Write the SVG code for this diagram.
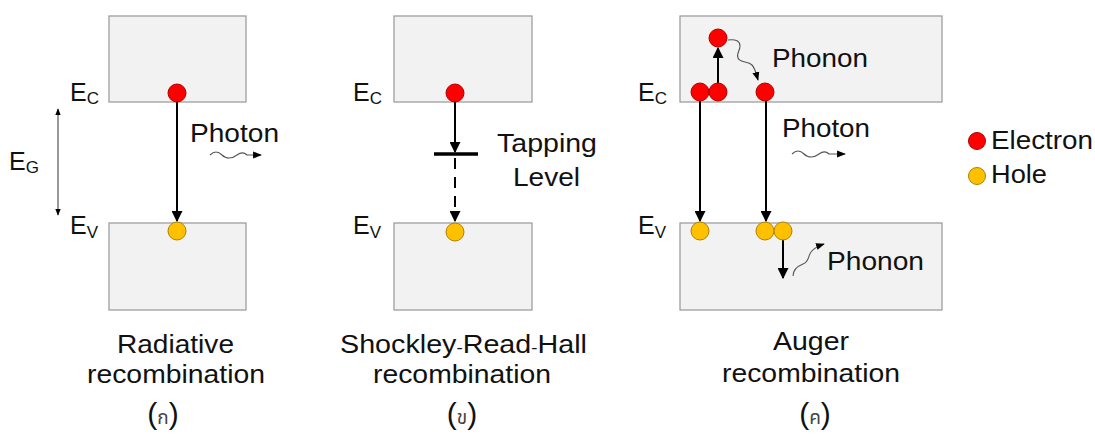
<svg xmlns="http://www.w3.org/2000/svg" width="1095" height="434" viewBox="0 0 1095 434">
<style>
.band{fill:#f2f2f2;stroke:#9e9e9e;stroke-width:1.3}
.el{fill:#ff0000;stroke:#b00000;stroke-width:1}
.ho{fill:#ffc000;stroke:#b08000;stroke-width:1}
.t{font-family:"Liberation Sans","Noto Sans",sans-serif;fill:#111;font-size:26px}
.e{font-size:25px}
.sub{font-size:17px}
.par{font-size:30px}
.th{font-family:"Noto Sans Thai","Noto Sans","DejaVu Sans",sans-serif;font-size:19px;fill:#444}
.ar{stroke:#000;stroke-width:2;fill:none}
.wv{stroke:#555;stroke-width:1.1;fill:none}
</style>
<defs>
<marker id="ah" viewBox="0 0 10 10" refX="9" refY="5" markerWidth="5.5" markerHeight="5.5" orient="auto-start-reverse" markerUnits="strokeWidth"><path d="M0,0L10,5L0,10z" fill="#000"/></marker>
<marker id="ahs" viewBox="0 0 10 10" refX="9" refY="5" markerWidth="7" markerHeight="7" orient="auto-start-reverse" markerUnits="strokeWidth"><path d="M0,1L10,5L0,9z" fill="#000"/></marker>
<marker id="ahw" viewBox="0 0 10 10" refX="9" refY="5" markerWidth="8" markerHeight="8" orient="auto" markerUnits="strokeWidth"><path d="M0,1L10,5L0,9z" fill="#000"/></marker>
</defs>
<g id="panel-a">
<rect class="band" x="109" y="16" width="137" height="86"/>
<rect class="band" x="109" y="223" width="137" height="87"/>
<text class="t e" x="70" y="101">E<tspan class="sub" dy="3">C</tspan></text>
<text class="t e" x="70" y="234">E<tspan class="sub" dy="4">V</tspan></text>
<text class="t e" x="9" y="170">E<tspan class="sub" dy="3">G</tspan></text>
<text class="t" x="190" y="142" textLength="89" lengthAdjust="spacingAndGlyphs">Photon</text>
<text class="t" x="117" y="353" textLength="117" lengthAdjust="spacingAndGlyphs">Radiative</text>
<text class="t" x="87" y="383" textLength="178" lengthAdjust="spacingAndGlyphs">recombination</text>
<text class="t par" x="163" y="424" text-anchor="middle">(<tspan class="th">ก</tspan>)</text>
</g>
<g id="panel-b">
<rect class="band" x="394" y="16" width="138" height="86"/>
<rect class="band" x="394" y="223" width="138" height="87"/>
<line x1="434" y1="154" x2="478" y2="154" stroke="#000" stroke-width="3.5"/>
<text class="t e" x="353" y="101">E<tspan class="sub" dy="3">C</tspan></text>
<text class="t e" x="353" y="234">E<tspan class="sub" dy="4">V</tspan></text>
<text class="t" x="497" y="152" textLength="100" lengthAdjust="spacingAndGlyphs">Tapping</text>
<text class="t" x="513" y="186" textLength="67" lengthAdjust="spacingAndGlyphs">Level</text>
<text class="t" x="340" y="353" textLength="247" lengthAdjust="spacingAndGlyphs">Shockley<tspan font-size="17">-</tspan>Read<tspan font-size="17">-</tspan>Hall</text>
<text class="t" x="373" y="383" textLength="178" lengthAdjust="spacingAndGlyphs">recombination</text>
<text class="t par" x="462" y="424" text-anchor="middle">(<tspan class="th">ข</tspan>)</text>
</g>
<g id="panel-c">
<rect class="band" x="680" y="16" width="262" height="86"/>
<rect class="band" x="680" y="223" width="262" height="87"/>
<text class="t e" x="638" y="101">E<tspan class="sub" dy="3">C</tspan></text>
<text class="t e" x="638" y="234">E<tspan class="sub" dy="4">V</tspan></text>
<text class="t" x="772" y="67" textLength="96" lengthAdjust="spacingAndGlyphs">Phonon</text>
<text class="t" x="782" y="137" textLength="88" lengthAdjust="spacingAndGlyphs">Photon</text>
<text class="t" x="827" y="270" textLength="97" lengthAdjust="spacingAndGlyphs">Phonon</text>
<text class="t" x="773" y="350" textLength="76" lengthAdjust="spacingAndGlyphs">Auger</text>
<text class="t" x="722" y="382" textLength="178" lengthAdjust="spacingAndGlyphs">recombination</text>
<text class="t par" x="815" y="424" text-anchor="middle">(<tspan class="th">ค</tspan>)</text>
</g>
<g id="legend">
<circle class="el" cx="977" cy="141" r="8.5"/>
<text class="t" x="991" y="149" textLength="102" lengthAdjust="spacingAndGlyphs">Electron</text>
<circle class="ho" cx="977" cy="176" r="8.5"/>
<text class="t" x="991" y="183" textLength="56" lengthAdjust="spacingAndGlyphs">Hole</text>
</g>
<g id="connectors">
<line class="ar" x1="177" y1="101" x2="177" y2="221" marker-end="url(#ah)"/>
<line x1="58" y1="109" x2="58" y2="215" stroke="#333" stroke-width="1" marker-start="url(#ahs)" marker-end="url(#ahs)"/>
<path class="wv" d="M210,155 c4,-4 8,-4 12,0 c4,4 10,4 15,0 c4,-3 7,-3 10,0 l14,0" marker-end="url(#ahw)"/>
<line class="ar" x1="455" y1="101" x2="455" y2="152" marker-end="url(#ah)"/>
<line class="ar" x1="455" y1="158" x2="455" y2="221" stroke-dasharray="11,8" marker-end="url(#ah)"/>
<line class="ar" x1="718" y1="84" x2="718" y2="48" marker-end="url(#ah)"/>
<path class="wv" d="M728,40 c8,-1 12,1 12,6 c0,5 -4,8 -2,12 c2,5 10,3 14,7 c3,3 4,8 6,15" marker-end="url(#ahw)"/>
<line class="ar" x1="700" y1="101" x2="700" y2="221" marker-end="url(#ah)"/>
<line class="ar" x1="766" y1="101" x2="766" y2="221" marker-end="url(#ah)"/>
<line class="ar" x1="783" y1="240" x2="783" y2="278" marker-end="url(#ah)"/>
<path class="wv" d="M793,276 c0,-7 5,-10 10,-12 c6,-2 5,-8 8,-12 c3,-4 7,-6 13,-8" marker-end="url(#ahw)"/>
<path class="wv" d="M792,154 c4,-4 8,-4 12,0 c4,4 10,4 15,0 c4,-3 7,-3 10,0 l16,0" marker-end="url(#ahw)"/>
</g>
<g id="particles">
<circle class="el" cx="177" cy="93" r="9"/>
<circle class="ho" cx="177" cy="231" r="9"/>
<circle class="el" cx="455" cy="93" r="9"/>
<circle class="ho" cx="455" cy="232" r="9"/>
<circle class="el" cx="700" cy="92" r="9"/>
<circle class="el" cx="718" cy="92" r="9"/>
<circle class="el" cx="765" cy="92" r="9"/>
<circle class="el" cx="718" cy="38" r="9"/>
<circle class="ho" cx="700" cy="231" r="9"/>
<circle class="ho" cx="765" cy="231" r="9"/>
<circle class="ho" cx="783" cy="231" r="9"/>
</g>
</svg>
